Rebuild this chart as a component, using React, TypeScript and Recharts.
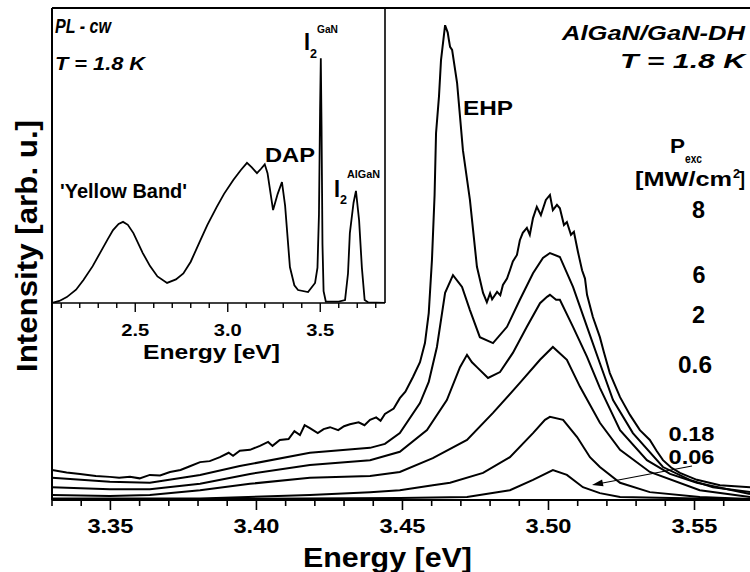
import React from 'react';
import { LineChart, Line, XAxis, YAxis, ReferenceLine } from 'recharts';

// ---------- tick definitions ----------
const mainTicks = [3.33, 3.34, 3.35, 3.36, 3.37, 3.38, 3.39, 3.4, 3.41, 3.42, 3.43, 3.44, 3.45, 3.46, 3.47, 3.48, 3.49, 3.5, 3.51, 3.52, 3.53, 3.54, 3.55, 3.56];
const mainTickLabels = [3.35, 3.4, 3.45, 3.5, 3.55];
const insetTicks = [2.1, 2.2, 2.3, 2.4, 2.5, 2.6, 2.7, 2.8, 2.9, 3.0, 3.1, 3.2, 3.3, 3.4, 3.5, 3.6, 3.7, 3.8];
const insetTickLabels = [2.5, 3.0, 3.5];

// ---------- main spectra [energy eV, intensity arb.u.] ----------
const p8: [number, number][] = [
  [3.33, 6.1], [3.335, 5.6], [3.3396, 5.3], [3.345, 4.9], [3.3498, 4.7], [3.353, 4.5], [3.3567, 4.7], [3.36, 4.4],
  [3.3635, 5.1], [3.367, 5.0], [3.3704, 5.7], [3.374, 6.1], [3.377, 6.8], [3.3807, 7.7], [3.384, 7.9], [3.3875, 8.7],
  [3.3905, 9.6], [3.392, 9.0], [3.3943, 10.0], [3.3978, 10.2], [3.4012, 11.0], [3.404, 11.8], [3.4055, 11.0], [3.408, 12.2],
  [3.411, 12.4], [3.413, 14.0], [3.4149, 13.2], [3.4165, 15.2], [3.4183, 14.6], [3.421, 13.6], [3.423, 14.4], [3.4252, 14.8],
  [3.428, 14.2], [3.43, 15.0], [3.432, 15.4], [3.435, 15.8], [3.437, 15.2], [3.4389, 16.3], [3.441, 16.8], [3.4425, 16.1],
  [3.444, 17.5], [3.447, 18.6], [3.4491, 20.7], [3.451, 22.0], [3.4536, 25.0], [3.456, 28.0], [3.4577, 31.9], [3.459, 38.0],
  [3.4601, 48.8], [3.461, 62.0], [3.4615, 74.6], [3.4625, 82.0], [3.4632, 89.4], [3.4646, 96.5], [3.4655, 95.0], [3.4659, 93.5],
  [3.4663, 92.1], [3.467, 91.5], [3.4687, 84.8], [3.4707, 71.1], [3.4731, 61.0], [3.4755, 47.4], [3.4776, 42.1], [3.4789, 40.2],
  [3.48, 42.0], [3.4807, 40.8], [3.4824, 42.3], [3.4835, 41.6], [3.4844, 43.7], [3.4858, 45.0], [3.4868, 46.7], [3.4878, 48.5],
  [3.4892, 49.8], [3.4902, 52.8], [3.4912, 54.3], [3.4926, 55.3], [3.4936, 53.9], [3.4947, 57.3], [3.496, 59.6], [3.4974, 57.9],
  [3.4991, 61.0], [3.5005, 62.0], [3.5015, 58.9], [3.5029, 60.0], [3.5039, 59.3], [3.5053, 55.9], [3.5063, 56.5], [3.5077, 53.9],
  [3.5087, 54.5], [3.5101, 50.4], [3.5115, 46.7], [3.5125, 45.0], [3.5132, 41.7], [3.5152, 37.2], [3.5176, 33.1], [3.519, 30.0],
  [3.521, 25.8], [3.5245, 20.9], [3.5279, 17.3], [3.5313, 14.2], [3.5347, 12.2], [3.537, 10.0], [3.5392, 8.1], [3.542, 6.6],
  [3.545, 5.5], [3.5508, 4.1], [3.5587, 3.0], [3.569, 2.6],
];
const p6: [number, number][] = [
  [3.33, 4.5], [3.3498, 3.7], [3.3635, 3.5], [3.3807, 5.1], [3.3943, 6.9], [3.4183, 9.6], [3.4389, 10.6], [3.444, 11.4],
  [3.4491, 13.6], [3.456, 19.7], [3.459, 24.0], [3.4618, 31.1], [3.4646, 42.1], [3.4673, 45.7], [3.4704, 43.3], [3.4731, 38.6],
  [3.4765, 33.1], [3.481, 31.9], [3.4858, 35.2], [3.4902, 40.7], [3.4947, 46.1], [3.4981, 49.2], [3.5005, 50.2], [3.5039, 49.4],
  [3.5084, 43.3], [3.5132, 35.2], [3.5176, 27.8], [3.5221, 20.3], [3.5289, 13.6], [3.5392, 6.7], [3.5484, 4.1], [3.5563, 2.6],
  [3.569, 1.6],
];
const p2: [number, number][] = [
  [3.33, 2.6], [3.3498, 2.2], [3.3635, 2.2], [3.3807, 3.3], [3.3978, 5.3], [3.4183, 7.1], [3.4389, 8.1], [3.4491, 9.8],
  [3.4584, 14.2], [3.4652, 20.3], [3.4697, 27.0], [3.4721, 29.5], [3.4738, 28.0], [3.4755, 27.0], [3.4793, 24.8], [3.4834, 26.0],
  [3.4878, 29.9], [3.4926, 35.2], [3.4971, 40.0], [3.4995, 41.3], [3.5005, 41.7], [3.5026, 40.7], [3.5039, 40.7], [3.5084, 35.2],
  [3.5132, 29.1], [3.5176, 22.8], [3.5245, 14.2], [3.5337, 8.1], [3.5416, 5.3], [3.5508, 3.5], [3.569, 1.2],
];
const p06: [number, number][] = [
  [3.33, 1.0], [3.3498, 0.8], [3.3635, 1.0], [3.3807, 2.0], [3.3978, 3.3], [3.4183, 4.5], [3.4389, 4.9], [3.4491, 5.7],
  [3.4604, 8.5], [3.4721, 12.2], [3.481, 17.7], [3.4902, 23.8], [3.4971, 28.5], [3.5015, 31.1], [3.5063, 28.5], [3.5108, 23.0],
  [3.5176, 15.7], [3.5245, 10.2], [3.5347, 5.7], [3.5518, 2.0], [3.569, 0.6],
];
const p018: [number, number][] = [
  [3.33, 0.3], [3.3807, 0.3], [3.4183, 1.0], [3.4389, 1.6], [3.4491, 2.0], [3.4604, 3.0], [3.4663, 3.5], [3.4776, 5.5],
  [3.4868, 8.7], [3.4947, 13.6], [3.4988, 16.3], [3.5005, 16.9], [3.505, 16.3], [3.5098, 12.8], [3.5142, 8.7], [3.5176, 6.7],
  [3.5245, 3.5], [3.5347, 1.6], [3.5518, 0.6], [3.569, 0.2],
];
const p006: [number, number][] = [
  [3.33, 0.05], [3.4491, 0.4], [3.4721, 0.6], [3.4868, 2.0], [3.4947, 4.1], [3.5015, 6.1], [3.5063, 5.1], [3.5118, 2.6],
  [3.5176, 1.4], [3.5245, 0.6], [3.569, 0.1],
];

// ---------- inset: cw PL spectrum ----------
const insetSpectrum: [number, number][] = [
  [2.05, 0], [2.09, 0.7], [2.13, 2], [2.18, 4.5], [2.22, 7.8], [2.27, 12.5], [2.31, 17], [2.35, 21.5], [2.38, 24.7],
  [2.41, 26.8], [2.434, 27.5], [2.46, 26.5], [2.49, 23.7], [2.54, 17], [2.58, 12.5], [2.62, 9], [2.672, 6.8], [2.72, 8],
  [2.76, 10], [2.8, 14], [2.85, 21], [2.89, 26.5], [2.94, 32.5], [2.98, 37], [3.03, 41.7], [3.07, 45], [3.104, 47.5],
  [3.13, 46], [3.158, 44], [3.18, 45.5], [3.2, 47], [3.215, 44], [3.245, 31.5], [3.27, 37], [3.293, 41], [3.31, 33],
  [3.336, 12.2], [3.36, 6], [3.38, 4.4], [3.434, 3.7], [3.472, 6.8], [3.485, 12], [3.493, 30], [3.499, 65], [3.503, 83],
  [3.507, 60], [3.512, 20], [3.518, 4], [3.53, 0.5], [3.6, 0.5], [3.634, 1], [3.65, 10], [3.66, 23.7], [3.68, 34],
  [3.693, 38], [3.71, 28], [3.725, 12], [3.74, 1], [3.76, 0.2], [3.85, 0],
];

const seriesList = [p8, p6, p2, p06, p018, p006];
const toPts = (a: [number, number][]) => a.map(([e, v]) => ({ e, v }));

const FONT = '"Liberation Sans", Arial, Helvetica, sans-serif';

function Txt(props: any) {
  const { x, y, w, size, anchor = 'start', italic = false, transform, children } = props;
  return (
    <text
      x={x}
      y={y}
      fontFamily={FONT}
      fontWeight="bold"
      fontStyle={italic ? 'italic' : 'normal'}
      fontSize={size}
      textAnchor={anchor}
      textLength={w}
      lengthAdjust="spacingAndGlyphs"
      transform={transform}
      fill="#000"
    >
      {children}
    </text>
  );
}

const isIn = (arr: number[], v: number) => arr.some((t) => Math.abs(t - v) < 1e-6);

const MainTick = (props: any) => {
  const { x, y, payload } = props;
  const major = isIn(mainTickLabels, payload.value);
  return (
    <g>
      <line x1={x} x2={x} y1={y} y2={y + (major ? 10 : 6)} stroke="#000" strokeWidth={1.6} />
      {major && (
        <Txt x={x} y={y + 33} w={46} size={21} anchor="middle">
          {payload.value.toFixed(2)}
        </Txt>
      )}
    </g>
  );
};

const InsetTick = (props: any) => {
  const { x, y, payload } = props;
  const major = isIn(insetTickLabels, payload.value);
  return (
    <g>
      <line x1={x} x2={x} y1={y} y2={y + (major ? 9 : 5)} stroke="#000" strokeWidth={1.4} />
      {major && (
        <Txt x={x} y={y + 33} w={28} size={17} anchor="middle">
          {payload.value.toFixed(1)}
        </Txt>
      )}
    </g>
  );
};

export default function App() {
  return (
    <div style={{ position: 'absolute', left: 0, top: 0, width: 750, height: 572, overflow: 'hidden', background: '#fff' }}>
      <div style={{ position: 'absolute', left: 0, top: 0 }}>
        <LineChart width={750} height={572} margin={{ top: 8, right: 0, bottom: 0, left: 52 }}>
          <XAxis
            type="number"
            dataKey="e"
            domain={[3.33, 3.569]}
            ticks={mainTicks}
            interval={0}
            allowDataOverflow
            height={72}
            tickSize={0}
            tickMargin={0}
            tickLine={false}
            tick={<MainTick />}
            axisLine={{ stroke: '#000', strokeWidth: 2 }}
          />
          <YAxis hide type="number" domain={[0, 100]} allowDataOverflow />
          <ReferenceLine x={3.33} stroke="#000" strokeWidth={2} />
          <ReferenceLine y={100} stroke="#000" strokeWidth={2} />
          {seriesList.map((s, i) => (
            <Line
              key={i}
              data={toPts(s)}
              dataKey="v"
              type="linear"
              stroke="#000"
              strokeWidth={2}
              dot={false}
              isAnimationActive={false}
            />
          ))}
        </LineChart>
      </div>
      <div style={{ position: 'absolute', left: 52, top: 8 }}>
        <LineChart width={334} height={360} margin={{ top: 0, right: 1, bottom: 0, left: 0 }}>
          <XAxis
            type="number"
            dataKey="e"
            domain={[2.05, 3.85]}
            ticks={insetTicks}
            interval={0}
            allowDataOverflow
            height={65}
            tickSize={0}
            tickMargin={0}
            tickLine={false}
            tick={<InsetTick />}
            axisLine={{ stroke: '#000', strokeWidth: 1.6 }}
          />
          <YAxis hide type="number" domain={[0, 100]} allowDataOverflow />
          <ReferenceLine x={3.85} stroke="#000" strokeWidth={1.6} />
          <Line
            data={toPts(insetSpectrum)}
            dataKey="v"
            type="linear"
            stroke="#000"
            strokeWidth={1.8}
            dot={false}
            isAnimationActive={false}
          />
        </LineChart>
      </div>
      <svg width={750} height={572} style={{ position: 'absolute', left: 0, top: 0, pointerEvents: 'none' }}>
        {/* axis titles */}
        <Txt x={37} y={246} w={252} size={30} anchor="middle" transform="rotate(-90 37 246)">Intensity [arb. u.]</Txt>
        <Txt x={387.5} y={567} w={169} size={28} anchor="middle">Energy [eV]</Txt>
        <Txt x={211.5} y={359} w={137} size={21} anchor="middle">Energy [eV]</Txt>

        {/* inset annotations */}
        <Txt x={55} y={33} w={56} size={21} italic>PL - cw</Txt>
        <Txt x={55} y={70} w={90} size={19} italic>T = 1.8 K</Txt>
        <Txt x={265} y={162} w={50} size={21}>DAP</Txt>
        <Txt x={60} y={198} w={127} size={21}>'Yellow Band'</Txt>
        <Txt x={304} y={50} w={6} size={23}>I</Txt>
        <Txt x={310} y={58} w={7} size={12}>2</Txt>
        <Txt x={317} y={33} w={21} size={11}>GaN</Txt>
        <Txt x={334} y={197} w={6} size={23}>I</Txt>
        <Txt x={340} y={204} w={7} size={12}>2</Txt>
        <Txt x={347} y={178} w={33} size={11}>AlGaN</Txt>

        {/* main annotations */}
        <Txt x={745} y={40} w={183} size={21} anchor="end" italic>AlGaN/GaN-DH</Txt>
        <Txt x={745} y={68} w={125} size={21} anchor="end" italic>T = 1.8 K</Txt>
        <Txt x={463} y={115} w={50} size={21}>EHP</Txt>
        <Txt x={670} y={153} w={15} size={21}>P</Txt>
        <Txt x={685} y={163} w={17} size={12}>exc</Txt>
        <Txt x={635} y={186} w={97} size={21}>[MW/cm</Txt>
        <Txt x={733} y={178} w={7} size={12}>2</Txt>
        <Txt x={739} y={186} w={6} size={21}>]</Txt>
        <Txt x={698.5} y={218} w={13} size={23} anchor="middle">8</Txt>
        <Txt x={699} y={283} w={13} size={23} anchor="middle">6</Txt>
        <Txt x={698.5} y={323} w={13} size={23} anchor="middle">2</Txt>
        <Txt x={695} y={373} w={34} size={23} anchor="middle">0.6</Txt>
        <Txt x={691.5} y={441} w={46} size={20} anchor="middle">0.18</Txt>
        <Txt x={691.5} y={464} w={46} size={20} anchor="middle">0.06</Txt>

        {/* arrow for the lowest-power curve */}
        <line x1={692} y1={466} x2={600} y2={483.5} stroke="#000" strokeWidth={1.2} />
        <polygon points="592,485 603.5,486.3 602.1,479.5" fill="#000" />
      </svg>
    </div>
  );
}
